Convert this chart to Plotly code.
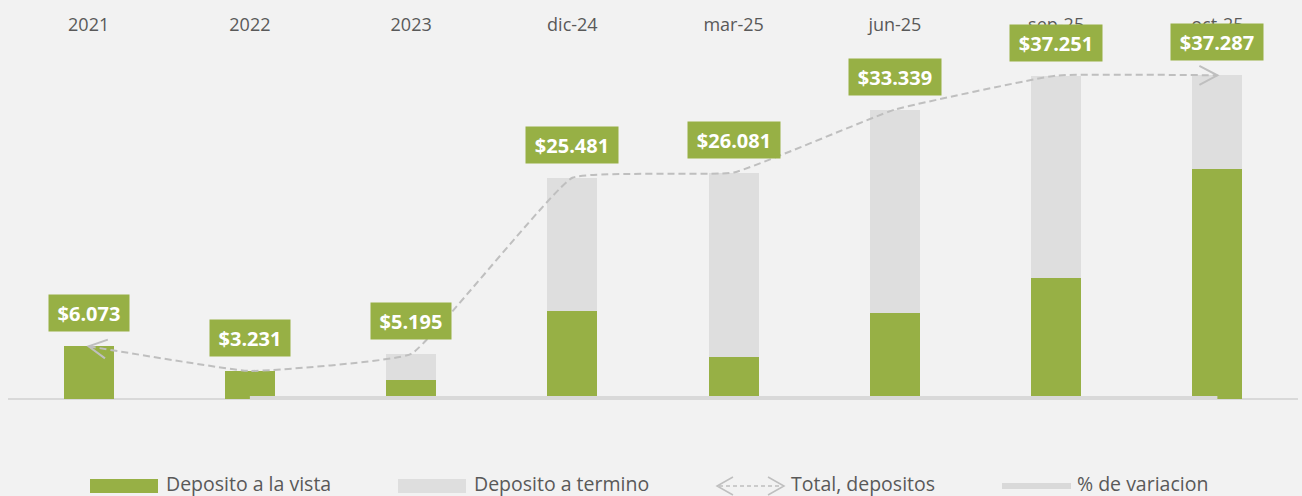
import math
import plotly.graph_objects as go

# ---------------- data ----------------
categories = ["2021", "2022", "2023", "dic-24", "mar-25", "jun-25", "sep-25", "oct-25"]
deposito_vista = [6073, 3231, 2150, 10100, 4800, 9870, 13940, 26540]
deposito_termino = [0, 0, 3045, 15381, 21281, 23469, 23311, 10747]
total_depositos = [6073, 3231, 5195, 25481, 26081, 33339, 37251, 37287]
variacion_cats = ["2022", "2023", "dic-24", "mar-25", "jun-25", "sep-25", "oct-25"]
variacion = [-0.468, 0.608, 3.905, 0.024, 0.278, 0.117, 0.001]
legend_names = ["Deposito a la vista", "Deposito a termino", "Total, depositos", "% de variacion"]

# ---------------- style ----------------
GREEN = "#97B045"
LGRAY = "#DEDEDE"
LINE_GRAY = "#BFBFBF"
VAR_GRAY = "#D9D9D9"
BG = "#F2F2F2"
TXT = "#595959"
FONT = "Open Sans"

W, H = 1302, 496
ML, MR, MT, MB = 8, 4, 50, 97
PW, PH = W - ML - MR, H - MT - MB
YMAX = 40200

fig = go.Figure()
fig.add_trace(go.Bar(x=categories, y=deposito_vista, name=legend_names[0],
                     marker=dict(color=GREEN, line=dict(width=0)), showlegend=False))
fig.add_trace(go.Bar(x=categories, y=deposito_termino, name=legend_names[1],
                     marker=dict(color=LGRAY, line=dict(width=0)), showlegend=False))
fig.add_trace(go.Scatter(x=variacion_cats, y=variacion, name=legend_names[3], mode="lines",
                         line=dict(color=VAR_GRAY, width=6), showlegend=False, hoverinfo="skip"))
fig.add_trace(go.Scatter(x=categories, y=total_depositos, name=legend_names[2], mode="lines",
                         line=dict(color=LINE_GRAY, width=2, dash="7px,4px", shape="spline", smoothing=0.3),
                         showlegend=False))

# value labels (x given as category index so that year-like names are not read as numbers)
for i, v in enumerate(total_depositos):
    txt = "$" + f"{v:,}".replace(",", ".")
    fig.add_annotation(x=i, y=v, yshift=33, text=txt, showarrow=False,
                       font=dict(family=FONT, size=20, color="white", weight=700),
                       bgcolor=GREEN, borderpad=0, width=80 if len(txt) <= 6 else 92, height=36,
                       align="center", valign="middle")

# chevron arrow heads at both ends of the total line (pixel offsets from data anchors)
px_per_cat = PW / len(categories)
px_per_unit = PH / YMAX


def chevron(anchor_x, anchor_y, dx_px, dy_px_up):
    L = math.hypot(dx_px, dy_px_up)
    ux, uy = dx_px / L, dy_px_up / L
    nx, ny = -uy, ux
    back, half = 18, 9.5
    p1 = (back * ux + half * nx, back * uy + half * ny)
    p2 = (back * ux - half * nx, back * uy - half * ny)
    path = f"M{p1[0]:.2f},{p1[1]:.2f} L0,0 L{p2[0]:.2f},{p2[1]:.2f}"
    fig.add_shape(type="path", xref="x", yref="y", xsizemode="pixel", ysizemode="pixel",
                  xanchor=anchor_x, yanchor=anchor_y, path=path,
                  line=dict(color=LINE_GRAY, width=2))


last = len(categories) - 1
chevron(0, total_depositos[0], px_per_cat, (total_depositos[1] - total_depositos[0]) * px_per_unit)
chevron(last, total_depositos[-1], -px_per_cat, (total_depositos[-2] - total_depositos[-1]) * px_per_unit)


# ---------------- custom legend (paper coords) ----------------
def pxx(p):
    return (p - ML) / PW


def pxy(p):
    return 1 - (p - MT) / PH


LY = 483
fig.add_shape(type="rect", xref="paper", yref="paper", x0=pxx(90), x1=pxx(158), y0=pxy(493), y1=pxy(479),
              fillcolor=GREEN, line=dict(width=0))
fig.add_shape(type="rect", xref="paper", yref="paper", x0=pxx(398), x1=pxx(466), y0=pxy(493), y1=pxy(479),
              fillcolor=LGRAY, line=dict(width=0))
fig.add_shape(type="line", xref="paper", yref="paper", x0=pxx(719), x1=pxx(782), y0=pxy(486), y1=pxy(486),
              line=dict(color=LINE_GRAY, width=1.5, dash="4px,3px"))
fig.add_shape(type="path", xref="paper", yref="paper",
              path=f"M{pxx(733)},{pxy(477)} L{pxx(717)},{pxy(486)} L{pxx(733)},{pxy(495)}",
              line=dict(color=LINE_GRAY, width=1.5))
fig.add_shape(type="path", xref="paper", yref="paper",
              path=f"M{pxx(768)},{pxy(477)} L{pxx(784)},{pxy(486)} L{pxx(768)},{pxy(495)}",
              line=dict(color=LINE_GRAY, width=1.5))
fig.add_shape(type="line", xref="paper", yref="paper", x0=pxx(1002), x1=pxx(1071), y0=pxy(486), y1=pxy(486),
              line=dict(color=VAR_GRAY, width=6))
for xs, name in zip([165, 473, 790, 1076], legend_names):
    fig.add_annotation(x=pxx(xs), y=pxy(LY), xref="paper", yref="paper", text=name, showarrow=False,
                       xanchor="left", yanchor="middle", borderpad=0,
                       font=dict(family=FONT, size=19.5, color=TXT))

fig.update_layout(
    width=W, height=H,
    margin=dict(l=ML, r=MR, t=MT, b=MB),
    paper_bgcolor=BG, plot_bgcolor=BG,
    barmode="stack", bargap=0.69,
    showlegend=False,
    font=dict(family=FONT, color=TXT),
    xaxis=dict(side="top", type="category", categoryorder="array", categoryarray=categories,
               range=[-0.5, len(categories) - 0.5], autorange=False,
               showgrid=False, showline=False, ticks="", ticklabelstandoff=14,
               tickfont=dict(family=FONT, size=18, color=TXT), fixedrange=True),
    yaxis=dict(range=[0, YMAX], autorange=False, showgrid=False, showticklabels=False, ticks="",
               zeroline=True, zerolinecolor=VAR_GRAY, zerolinewidth=1.5, showline=False, fixedrange=True),
)

fig.write_html("out.html", config={"displayModeBar": False},
               post_script="document.body.style.margin='0';document.body.style.overflow='hidden';")
